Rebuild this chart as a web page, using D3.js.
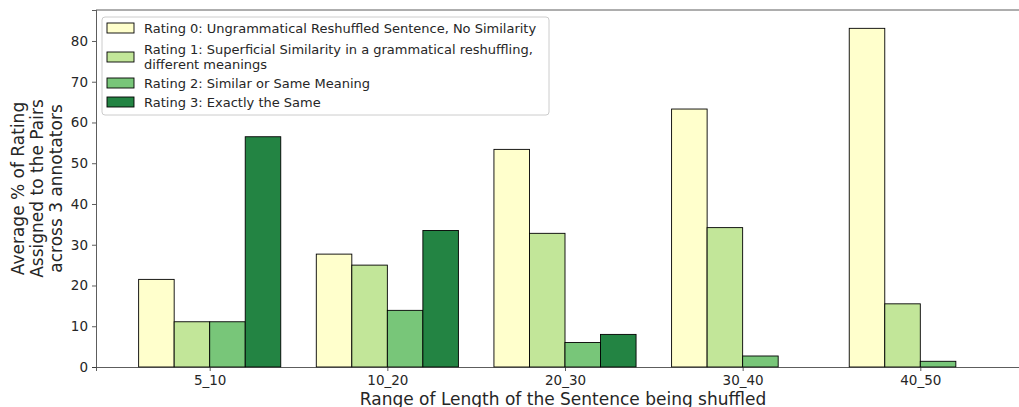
<!DOCTYPE html>
<html>
<head>
<meta charset="utf-8">
<script src="https://cdn.jsdelivr.net/npm/d3@7"></script>
<style>
  body { margin: 0; background: #fff; }
  text { font-family: "DejaVu Sans", sans-serif; fill: #262626; }
</style>
</head>
<body>
<div id="wrapper"></div>
<script>
// data
const categories = ["5_10", "10_20", "20_30", "30_40", "40_50"]
const seriesNames = [
  "Rating 0: Ungrammatical Reshuffled Sentence, No Similarity",
  "Rating 1: Superficial Similarity in a grammatical reshuffling,|different meanings",
  "Rating 2: Similar or Same Meaning",
  "Rating 3: Exactly the Same"
]
const rating0 = [21.5, 27.7, 53.4, 63.3, 83.1]
const rating1 = [11.1, 25.0, 32.8, 34.2, 15.5]
const rating2 = [11.1, 13.9, 6.0, 2.7, 1.4]
const rating3 = [56.5, 33.5, 8.0, 0, 0]
const yTicks = [0, 10, 20, 30, 40, 50, 60, 70, 80]
const colors = ["#ffffcc", "#c2e699", "#78c679", "#238443"]

const series = [rating0, rating1, rating2, rating3]

// dimensions
const dimensions = {
  width: 1019, height: 407,
  margins: {top: 10, bottom: 40, left: 96, right: -15}
}
dimensions.boundsWidth = dimensions.width - dimensions.margins.left - dimensions.margins.right
dimensions.boundsHeight = dimensions.height - dimensions.margins.top - dimensions.margins.bottom

const wrapper = d3.select("#wrapper").append("svg")
  .attr("width", dimensions.width)
  .attr("height", dimensions.height)

const bounds = wrapper.append("g")
  .attr("transform", `translate(${dimensions.margins.left},${dimensions.margins.top})`)

// scales
const barW = 0.2
const xScale = d3.scaleLinear()
  .domain([-0.64, categories.length - 1 + 0.64])
  .range([0, dimensions.boundsWidth])
const yScale = d3.scaleLinear()
  .domain([0, 87.6])
  .range([dimensions.boundsHeight, 0])

// bars
series.forEach((vals, s) => {
  bounds.append("g").selectAll("rect").data(vals).join("rect")
    .attr("x", (d, i) => xScale(i + (s - 2) * barW))
    .attr("width", xScale(barW) - xScale(0))
    .attr("y", d => yScale(d))
    .attr("height", d => yScale(0) - yScale(d))
    .attr("fill", colors[s])
    .attr("stroke", d => d > 0 ? "#000" : "none")
    .attr("stroke-width", 0.9)
})

// axes
const xAxis = bounds.append("g")
  .attr("transform", `translate(0,${dimensions.boundsHeight})`)
  .call(d3.axisBottom(xScale).tickValues(d3.range(categories.length))
    .tickFormat(i => categories[i]).tickSizeOuter(0).tickSize(4).tickPadding(4))
const yAxis = bounds.append("g")
  .call(d3.axisLeft(yScale).tickValues(yTicks).tickSizeOuter(0).tickSize(4).tickPadding(4))

;[xAxis, yAxis].forEach(a => {
  a.selectAll("text").style("font-size", "13.5px").attr("fill", "#262626")
  a.selectAll("line").attr("stroke", "#333").attr("stroke-width", 0.8)
  a.select(".domain").attr("stroke", "#333").attr("stroke-width", 0.8)
})
// top spine
bounds.append("line")
  .attr("x1", 0).attr("x2", dimensions.boundsWidth)
  .attr("y1", 0).attr("y2", 0)
  .attr("stroke", "#333").attr("stroke-width", 0.8)

// axis labels
wrapper.append("text")
  .attr("x", 563).attr("y", 405)
  .attr("text-anchor", "middle")
  .style("font-size", "17px")
  .text("Range of Length of the Sentence being shuffled")

const yLabel = wrapper.append("text")
  .attr("transform", `translate(24,${dimensions.margins.top + dimensions.boundsHeight / 2}) rotate(-90)`)
  .attr("text-anchor", "middle")
  .style("font-size", "17px")
;["Average % of Rating", "Assigned to the Pairs", "across 3 annotators"].forEach((t, i) => {
  yLabel.append("tspan").attr("x", 0).attr("dy", i === 0 ? 0 : 19).text(t)
})

// legend
const legend = wrapper.append("g").attr("transform", "translate(102,17)")
legend.append("rect")
  .attr("width", 447).attr("height", 98).attr("rx", 3)
  .attr("fill", "#fff").attr("fill-opacity", 0.8)
  .attr("stroke", "#ccc").attr("stroke-width", 1)
const rowY = [11, 40, 66, 85]
seriesNames.forEach((name, s) => {
  const g = legend.append("g").attr("transform", `translate(0,${rowY[s]})`)
  g.append("rect").attr("x", 5).attr("y", -5).attr("width", 27).attr("height", 10)
    .attr("fill", colors[s]).attr("stroke", "#000").attr("stroke-width", 0.9)
  const lines = name.split("|")
  lines.forEach((l, j) => {
    g.append("text")
      .attr("x", 42)
      .attr("y", (j - (lines.length - 1) / 2) * 15 + 4.5)
      .style("font-size", "13px")
      .text(l)
  })
})
</script>
</body>
</html>
